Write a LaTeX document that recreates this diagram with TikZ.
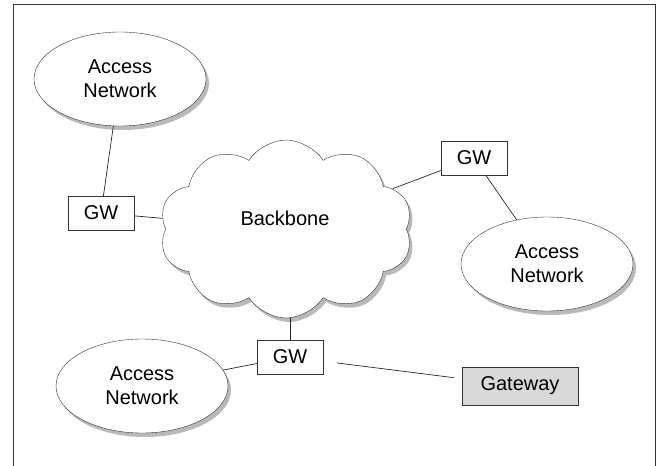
\documentclass[tikz,border=0pt]{standalone}
\usepackage{fontspec}
\setmainfont{Liberation Sans}
\usetikzlibrary{shapes.geometric, shapes.symbols, shadows}
\tikzset{
  netcloud/.style={
    cloud, draw=gray!40!black, fill=white, cloud puffs=10, cloud puff arc=115,
    aspect=1.4, inner sep=0pt, minimum width=253, minimum height=178,
    drop shadow={shadow xshift=3pt, shadow yshift=-4pt, fill=gray!55, opacity=1}
  },
  accessnet/.style={
    ellipse, draw=gray!40!black, fill=white, align=center, inner sep=0pt,
    minimum width=172, minimum height=94,
    drop shadow={shadow xshift=3pt, shadow yshift=-4pt, fill=gray!55, opacity=1}
  },
  gwbox/.style={
    draw=gray!40!black, fill=white, inner sep=0pt,
    minimum width=66, minimum height=34
  },
  gatebox/.style={
    draw=gray!40!black, fill=gray!30, inner sep=0pt,
    minimum width=116, minimum height=38
  },
  netlink/.style={draw=gray!30!black, line width=0.7pt},
}

\begin{document}
\begin{tikzpicture}[x=1pt, y=-1pt, font=\fontsize{20}{24}\selectfont]
  \useasboundingbox (0,0) rectangle (659,466);
  % Frame
  \draw[gray!40!black, line width=0.9pt] (13,466) -- (13,4) -- (655,4) -- (655,466);

  % Backbone
  \node[netcloud] (backbone) at (286,229) {};
  \node (bbtext) at (285,218) {Backbone};

  % Access networks
  \node[accessnet] (accnw) at (120,79) {Access\\Network};
  \node[accessnet] (accne) at (547,264) {Access\\Network};
  \node[accessnet] (accsw) at (142,386) {Access\\Network};

  % Gateways
  \node[gwbox] (gwwest) at (101,213) {GW};
  \node[gwbox] (gweast) at (474,158) {GW};
  \node[gwbox] (gwsouth) at (290,357) {GW};
  \node[gatebox] (gateway) at (520,386) {Gateway};

  % Links
  \draw[netlink] (accnw) -- (gwwest);
  \draw[netlink] (gwwest) -- (backbone);
  \draw[netlink] (backbone) -- (gweast);
  \draw[netlink] (gweast) -- (accne);
  \draw[netlink] (gwsouth.north) -- ++(0,-22);
  \draw[netlink] (gwsouth) -- (accsw);
  \draw[netlink, shorten <=14pt, shorten >=8pt] (gwsouth) -- (gateway);
\end{tikzpicture}
\end{document}
